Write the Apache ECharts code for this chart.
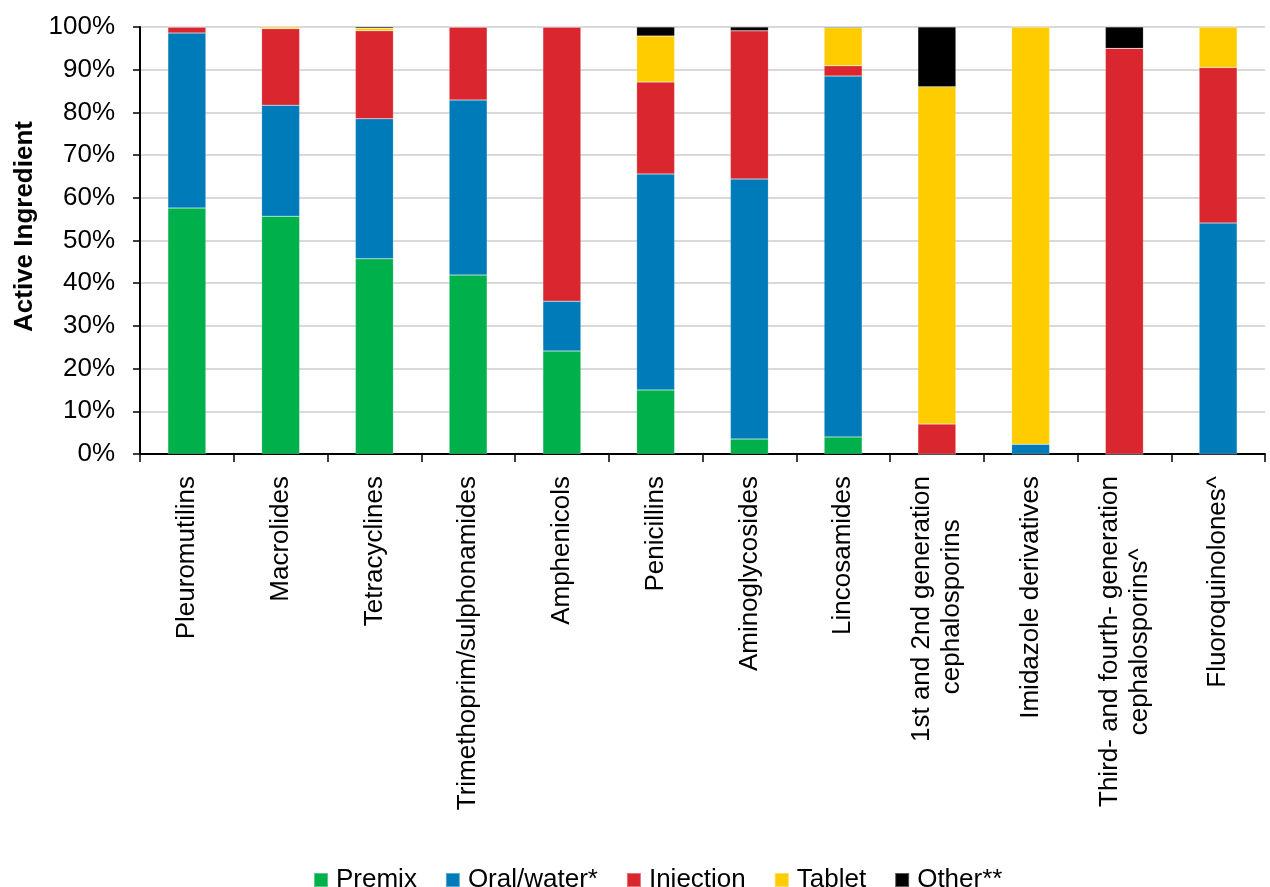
<!DOCTYPE html>
<html>
<head>
<meta charset="utf-8">
<title>Active ingredient by formulation</title>
<script src="https://cdn.jsdelivr.net/npm/echarts@6/dist/echarts.min.js"></script>
<style>
	html, body { margin: 0; padding: 0; background: #fff; }
	#main { width: 1270px; height: 887px; }
</style>
</head>
<body>
<div id="main"></div>
<script type="text/javascript">

	// categories (x axis); trailing spaces centre the 2nd line under the 1st
	var categories = [
		'Pleuromutilins', 'Macrolides', 'Tetracyclines', 'Trimethoprim/sulphonamides',
		'Amphenicols', 'Penicillins', 'Aminoglycosides', 'Lincosamides',
		'1st and 2nd generation\ncephalosporins      ', 'Imidazole derivatives',
		'Third- and fourth- generation\ncephalosporins^          ', 'Fluoroquinolones^'
	];

	// share of active ingredient (%) per formulation
	var premix    = [57.6, 55.7, 45.7, 41.9, 24.1, 15.0, 3.5, 4.0, 0, 0, 0, 0];
	var oralWater = [41.0, 26.0, 32.8, 41.0, 11.7, 50.6, 60.9, 84.5, 0, 2.3, 0, 54.1];
	var injection = [1.4, 17.9, 20.6, 17.1, 64.2, 21.5, 34.7, 2.4, 7.0, 0, 95.0, 36.4];
	var tablet    = [0, 0.4, 0.6, 0, 0, 10.8, 0, 8.9, 79.0, 97.7, 0, 9.5];
	var other     = [0, 0, 0.3, 0, 0, 2.1, 0.9, 0.2, 14.0, 0, 5.0, 0];

	var yTicks = [0, 10, 20, 30, 40, 50, 60, 70, 80, 90, 100];

	var font = 'Liberation Sans, Arial, sans-serif';

	function bar(name, data, color) {
		return {
			name: name,
			type: 'bar',
			stack: 'total',
			barWidth: '40.5%',
			data: data,
			itemStyle: { color: color, borderColor: 'rgba(255,255,255,0.35)', borderWidth: 0.5 }
		};
	}

	var myChart = echarts.init(document.getElementById('main'));
	var option = {
		backgroundColor: '#ffffff',
		animation: false,
		textStyle: { fontFamily: font },
		grid: { left: 140, right: 5, top: 27, bottom: 433 },
		legend: {
			top: 862,
			left: 308,
			itemWidth: 14,
			itemHeight: 14,
			itemGap: 28,
			icon: 'rect',
			textStyle: { fontSize: 26, color: '#000', fontFamily: font, padding: [0, 0, 0, 3] },
			data: ['Premix', 'Oral/water*', 'Injection', 'Tablet', 'Other**']
		},
		xAxis: {
			type: 'category',
			data: categories,
			axisLine: { lineStyle: { color: '#000', width: 2 } },
			axisTick: { show: true, length: 8, lineStyle: { color: '#000', width: 1.5 } },
			axisLabel: {
				rotate: 90,
				interval: 0,
				margin: 22,
				fontSize: 26,
				color: '#000',
				lineHeight: 30,
				fontFamily: font
			}
		},
		yAxis: {
			type: 'value',
			min: yTicks[0],
			max: yTicks[yTicks.length - 1],
			interval: 10,
			name: 'Active Ingredient',
			nameLocation: 'middle',
			nameGap: 95,
			nameTextStyle: {
				fontSize: 26, fontWeight: 'bold', color: '#000', fontFamily: font,
				padding: [0, 0, 0, 28]
			},
			axisLine: { show: true, lineStyle: { color: '#000', width: 2 } },
			axisTick: { show: true, length: 7, lineStyle: { color: '#000', width: 1.5 } },
			axisLabel: {
				formatter: '{value}%',
				fontSize: 26,
				color: '#000',
				margin: 25,
				fontFamily: font
			},
			splitLine: { show: true, lineStyle: { color: '#d9d9d9', width: 2 } }
		},
		series: [
			bar('Premix', premix, '#00b04a'),
			bar('Oral/water*', oralWater, '#007bba'),
			bar('Injection', injection, '#d9262f'),
			bar('Tablet', tablet, '#ffcc00'),
			bar('Other**', other, '#000000')
		]
	};
	myChart.setOption(option);
</script>
</body>
</html>
